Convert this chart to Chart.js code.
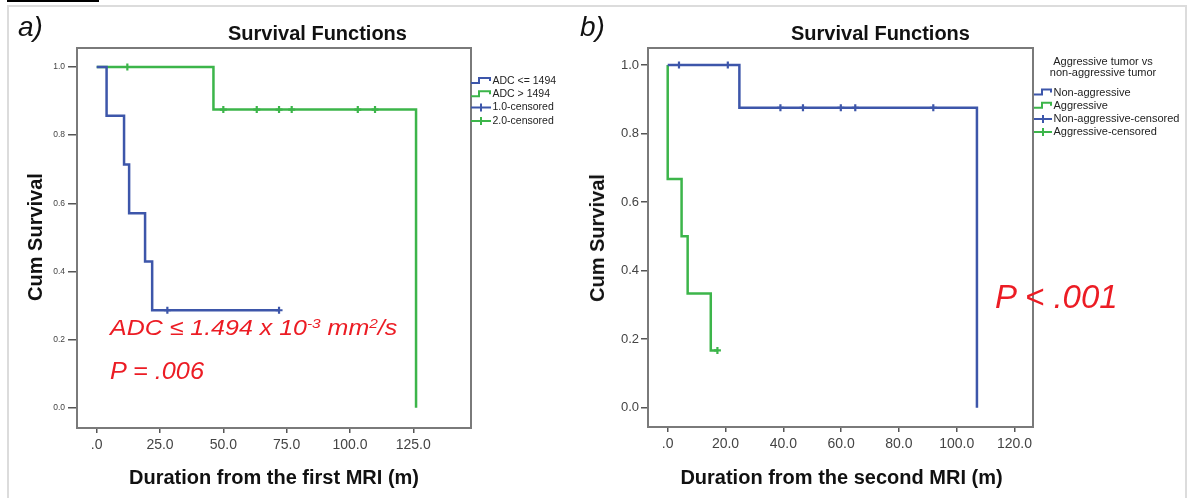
<!DOCTYPE html>
<html><head><meta charset="utf-8">
<script src="https://cdn.jsdelivr.net/npm/chart.js@4.4.1/dist/chart.umd.min.js"></script>
<style>
body{margin:0;width:1194px;height:498px;background:#fff;position:relative;overflow:hidden;font-family:"Liberation Sans",Arial,sans-serif;}
canvas{position:absolute;left:0;top:0;}
.t{position:absolute;white-space:nowrap;line-height:1;}
.ttl{font-weight:bold;font-size:20px;color:#111;transform:translate(-50%,-50%);}
.yt{font-weight:bold;font-size:20px;color:#111;transform:translate(-50%,-50%) rotate(-90deg);}
.red{color:#ec1c24;font-style:italic;transform-origin:0 50%;}
sup{font-size:62%;vertical-align:0;position:relative;top:-0.55em;}
</style></head><body>
<div style="position:absolute;left:7px;top:0;width:92px;height:2px;background:#000"></div>
<div style="position:absolute;left:7px;top:5px;width:1180px;height:510px;border:2px solid #dcdcdc;box-sizing:border-box"></div>
<canvas id="cL" width="1194" height="498"></canvas>
<canvas id="cR" width="1194" height="498"></canvas>
<div class="t" style="left:18px;top:27px;font-size:28px;font-style:italic;color:#111;transform:translateY(-50%)">a)</div>
<div class="t" style="left:580px;top:27px;font-size:28px;font-style:italic;color:#111;transform:translateY(-50%)">b)</div>
<div class="t ttl" style="left:317.5px;top:33px">Survival Functions</div>
<div class="t ttl" style="left:880.5px;top:33px">Survival Functions</div>
<div class="t yt" style="left:35px;top:237px">Cum Survival</div>
<div class="t yt" style="left:597px;top:238px">Cum Survival</div>
<div class="t ttl" style="left:274px;top:477px">Duration from the first MRI (m)</div>
<div class="t ttl" style="left:841.5px;top:477px">Duration from the second MRI (m)</div>
<div class="t red" style="left:110px;top:328px;font-size:22px;transform:translateY(-50%) scaleX(1.135)">ADC ≤ 1.494 x 10<sup>-3</sup> mm<sup>2</sup>/s</div>
<div class="t red" style="left:110px;top:371px;font-size:23px;transform:translateY(-50%) scaleX(1.1)">P = .006</div>
<div class="t red" style="left:995px;top:296px;font-size:33px;transform:translateY(-50%)">P &lt; .001</div>
<script>
// ---------- data: panel a ----------
const aStepLabels = ['ADC <= 1494', 'ADC > 1494'];
const aCensLabels = ['1.0-censored', '2.0-censored'];
const aLowTime = [0, 3.9, 10.8, 12.8, 19.1, 21.9, 72.0];
const aLowSurv = [1, 0.857, 0.714, 0.571, 0.429, 0.286, 0.286];
const aHighTime = [0, 46.1, 126.1];
const aHighSurv = [1, 0.875, 0];
const aLowCensTime = [27.9, 72.0];
const aLowCensSurv = [0.286, 0.286];
const aHighCensTime = [12.1, 50.0, 63.2, 72.0, 77.0, 103.1, 109.9];
const aHighCensSurv = [1, 0.875, 0.875, 0.875, 0.875, 0.875, 0.875];
const aXTicks = [0, 25, 50, 75, 100, 125];
const aYTicks = [0, 0.2, 0.4, 0.6, 0.8, 1.0];

// ---------- data: panel b ----------
const bLegendTitle = ['Aggressive tumor vs', 'non-aggressive tumor'];
const bStepLabels = ['Non-aggressive', 'Aggressive'];
const bCensLabels = ['Non-aggressive-censored', 'Aggressive-censored'];
const bNonTime = [0, 24.8, 107.0];
const bNonSurv = [1, 0.875, 0];
const bAggTime = [0, 0, 4.8, 6.9, 14.9, 17.2];
const bAggSurv = [1, 0.667, 0.5, 0.333, 0.167, 0.167];
const bNonCensTime = [3.9, 20.8, 39.0, 46.8, 59.9, 64.9, 91.9];
const bNonCensSurv = [1, 1, 0.875, 0.875, 0.875, 0.875, 0.875];
const bAggCensTime = [17.2];
const bAggCensSurv = [0.167];
const bXTicks = [0, 20, 40, 60, 80, 100, 120];
const bYTicks = [0, 0.2, 0.4, 0.6, 0.8, 1.0];

const BLUE = '#3d56aa', GREEN = '#3cb54a';
const pts = (t, s) => t.map((v, i) => ({x: v, y: s[i]}));
const fmt = v => v === 0 ? '.0' : v.toFixed(1);

function stepDs(label, t, s, color) {
  return {label, data: pts(t, s), showLine: true, stepped: 'before', borderColor: color,
    borderWidth: 2.5, pointRadius: 0, fill: false};
}
function censDs(label, t, s, color) {
  return {label, data: pts(t, s), showLine: false, pointStyle: 'cross', pointRadius: 3.5,
    borderColor: color, backgroundColor: color, pointBorderWidth: 2.2};
}

const framePlugin = {
  id: 'frameLegend',
  afterDraw(chart, args, o) {
    const {ctx, chartArea: a} = chart;
    ctx.save();
    ctx.strokeStyle = '#7a7a7a'; ctx.lineWidth = 2;
    ctx.strokeRect(a.left, a.top, a.right - a.left, a.bottom - a.top);
    ctx.font = o.font + 'px "Liberation Sans", Arial, sans-serif';
    ctx.fillStyle = '#222'; ctx.textBaseline = 'middle';
    if (o.title) {
      ctx.textAlign = 'center';
      o.title.forEach((tx, i) => ctx.fillText(tx, o.titleX, o.titleY + i * o.titleGap));
    }
    ctx.textAlign = 'left';
    o.items.forEach((it, i) => {
      const y = o.y0 + i * o.gap, x = o.x;
      ctx.strokeStyle = it.color; ctx.lineWidth = 2;
      ctx.beginPath();
      if (it.kind === 'step') {
        ctx.moveTo(x, y + 2); ctx.lineTo(x + 8, y + 2); ctx.lineTo(x + 8, y - 3);
        ctx.lineTo(x + o.w - 1, y - 3); ctx.lineTo(x + o.w - 1, y);
      } else {
        ctx.moveTo(x, y); ctx.lineTo(x + o.w, y);
        ctx.moveTo(x + o.w / 2, y - 4); ctx.lineTo(x + o.w / 2, y + 4);
      }
      ctx.stroke();
      ctx.fillText(it.label, x + o.w + 1.5, y);
    });
    ctx.restore();
  }
};

function makeChart(id, cfg) {
  return new Chart(document.getElementById(id), {
    type: 'scatter',
    data: {datasets: cfg.datasets},
    plugins: [framePlugin],
    options: {
      responsive: false, animation: false,
      layout: {padding: {top: 48, right: cfg.padRight, left: 0, bottom: 0}},
      plugins: {legend: {display: false}, tooltip: {enabled: false}, frameLegend: cfg.legend},
      scales: {
        x: {
          type: 'linear', min: cfg.xMin, max: cfg.xMax,
          afterFit: s => { s.height = cfg.xH; },
          afterBuildTicks: s => { s.ticks = cfg.xTicks.map(v => ({value: v})); },
          border: {display: true, color: '#7a7a7a', width: 2},
          grid: {drawOnChartArea: false, drawTicks: true, tickLength: 5, color: '#555', lineWidth: 1.5},
          ticks: {callback: v => fmt(v), color: '#444', padding: 4,
            font: {family: '"Liberation Sans", Arial, sans-serif', size: 14}, maxRotation: 0, autoSkip: false}
        },
        y: {
          type: 'linear', min: cfg.yMin, max: cfg.yMax,
          afterFit: s => { s.width = cfg.yW; },
          afterBuildTicks: s => { s.ticks = cfg.yTicks.map(v => ({value: v})); },
          border: {display: true, color: '#7a7a7a', width: 2},
          grid: {drawOnChartArea: false, drawTicks: true, tickLength: cfg.yTL, color: '#555', lineWidth: 1.5},
          ticks: {callback: v => v.toFixed(1), color: '#444', padding: cfg.yPad,
            font: {family: '"Liberation Sans", Arial, sans-serif', size: cfg.yFont}, autoSkip: false}
        }
      }
    }
  });
}

makeChart('cL', {
  datasets: [
    stepDs(aStepLabels[0], aLowTime, aLowSurv, BLUE),
    stepDs(aStepLabels[1], aHighTime, aHighSurv, GREEN),
    censDs(aCensLabels[0], aLowCensTime, aLowCensSurv, BLUE),
    censDs(aCensLabels[1], aHighCensTime, aHighCensSurv, GREEN)
  ],
  padRight: 1194 - 471, xMin: -7.78, xMax: 147.8, yMin: -0.0596, yMax: 1.0558,
  xH: 70, yW: 77, yTL: 9, yPad: 3, yFont: 8.5, xTicks: aXTicks, yTicks: aYTicks,
  legend: {font: 10.5, x: 471, w: 20, y0: 81, gap: 13.3, items: [
    {label: aStepLabels[0], color: BLUE, kind: 'step'},
    {label: aStepLabels[1], color: GREEN, kind: 'step'},
    {label: aCensLabels[0], color: BLUE, kind: 'cens'},
    {label: aCensLabels[1], color: GREEN, kind: 'cens'}]}
});

makeChart('cR', {
  datasets: [
    stepDs(bStepLabels[0], bNonTime, bNonSurv, BLUE),
    stepDs(bStepLabels[1], bAggTime, bAggSurv, GREEN),
    censDs(bCensLabels[0], bNonCensTime, bNonCensSurv, BLUE),
    censDs(bCensLabels[1], bAggCensTime, bAggCensSurv, GREEN)
  ],
  padRight: 1194 - 1033, xMin: -6.82, xMax: 126.4, yMin: -0.0563, yMax: 1.0496,
  xH: 71, yW: 648, yTL: 7, yPad: 2, yFont: 13, xTicks: bXTicks, yTicks: bYTicks,
  legend: {font: 11, x: 1034, w: 18, y0: 92.5, gap: 13.2,
    title: bLegendTitle, titleX: 1103, titleY: 61.5, titleGap: 11.5, items: [
    {label: bStepLabels[0], color: BLUE, kind: 'step'},
    {label: bStepLabels[1], color: GREEN, kind: 'step'},
    {label: bCensLabels[0], color: BLUE, kind: 'cens'},
    {label: bCensLabels[1], color: GREEN, kind: 'cens'}]}
});
</script>
</body></html>
